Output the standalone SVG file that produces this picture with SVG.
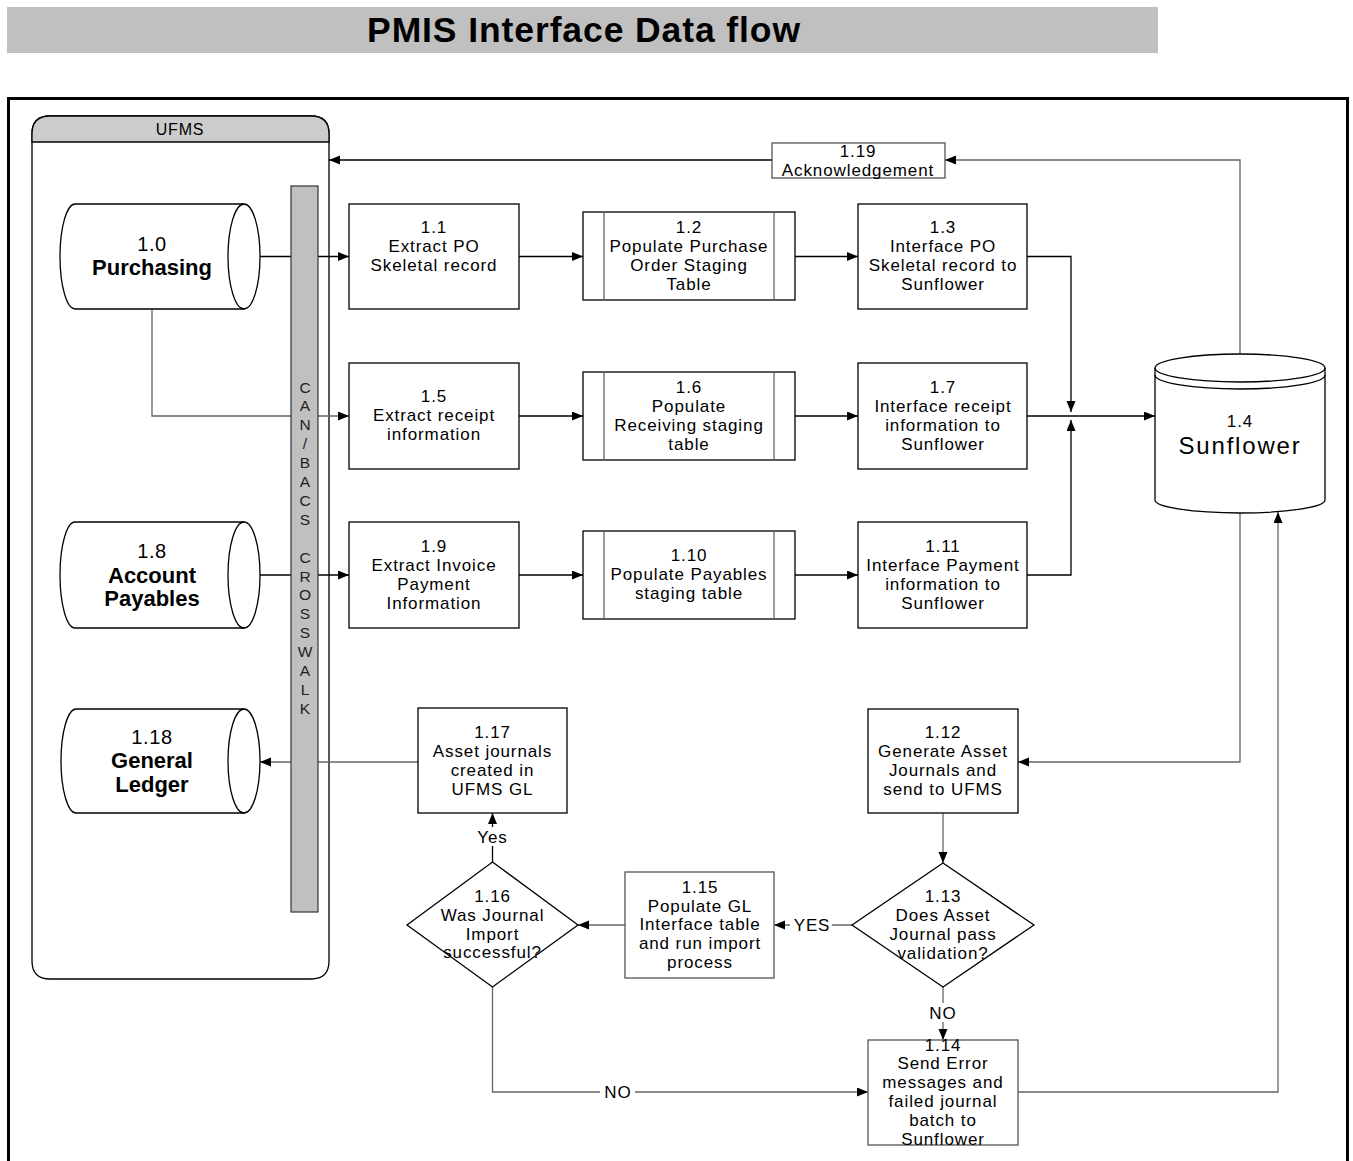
<svg xmlns="http://www.w3.org/2000/svg" width="1353" height="1161" viewBox="0 0 1353 1161">
<style>
.t{font-family:"Liberation Sans",Arial,sans-serif;font-size:17px;letter-spacing:0.9px;text-anchor:middle;fill:#000}
.n{font-family:"Liberation Sans",Arial,sans-serif;font-size:20px;letter-spacing:0.6px;text-anchor:middle;fill:#000}
.b{font-family:"Liberation Sans",Arial,sans-serif;font-size:22px;font-weight:bold;text-anchor:middle;fill:#000}
.bar{font-family:"Liberation Sans",Arial,sans-serif;font-size:15.5px;text-anchor:middle;fill:#222}
.box{fill:#fff;stroke:#000;stroke-width:1.3}
.gbox{fill:#fff;stroke:#555;stroke-width:1.3}
.c{fill:none;stroke:#000;stroke-width:1.3}
.g{fill:none;stroke:#666;stroke-width:1.3}
.lbl{fill:#fff;stroke:none}
</style>
<defs>
<marker id="ar" markerUnits="userSpaceOnUse" markerWidth="12" markerHeight="10" refX="11" refY="4.5" orient="auto">
<path d="M0,0 L11,4.5 L0,9 Z" fill="#000"/>
</marker>
</defs>

<g id="title">
<rect x="7" y="7" width="1151" height="46" fill="#c0c0c0"/>
<text x="584" y="42" style="font-family:'Liberation Sans',Arial,sans-serif;font-size:35.5px;font-weight:bold;letter-spacing:0.9px;text-anchor:middle">PMIS Interface Data flow</text>
</g>

<g id="frame">
<rect x="8.5" y="98.5" width="1339" height="1100" fill="none" stroke="#000" stroke-width="3"/>
</g>

<g id="ufms">
<path d="M32,961 L32,134 Q32,116 50,116 L311,116 Q329,116 329,134 L329,961 Q329,979 311,979 L50,979 Q32,979 32,961 Z" fill="#fff" stroke="#000" stroke-width="1.3"/>
<path d="M32,142 L32,134 Q32,116 50,116 L311,116 Q329,116 329,134 L329,142 Z" fill="#cccccc" stroke="#000" stroke-width="1.3"/>
<text x="180" y="135" style="font-family:'Liberation Sans',Arial,sans-serif;font-size:16px;letter-spacing:0.8px;text-anchor:middle">UFMS</text>
</g>

<g id="connectors">
<line class="c" x1="259" y1="256.5" x2="349" y2="256.5" marker-end="url(#ar)"/>
<line class="c" x1="519" y1="256.5" x2="583" y2="256.5" marker-end="url(#ar)"/>
<line class="c" x1="795" y1="256.5" x2="858" y2="256.5" marker-end="url(#ar)"/>
<polyline class="c" points="1027,256.5 1071,256.5 1071,412" marker-end="url(#ar)"/>
<polyline class="g" points="152,309 152,416 349,416" marker-end="url(#ar)"/>
<line class="c" x1="519" y1="416" x2="583" y2="416" marker-end="url(#ar)"/>
<line class="c" x1="795" y1="416" x2="858" y2="416" marker-end="url(#ar)"/>
<line class="c" x1="1027" y1="416" x2="1155" y2="416" marker-end="url(#ar)"/>
<line class="c" x1="243" y1="575" x2="349" y2="575" marker-end="url(#ar)"/>
<line class="c" x1="519" y1="575" x2="583" y2="575" marker-end="url(#ar)"/>
<line class="c" x1="795" y1="575" x2="858" y2="575" marker-end="url(#ar)"/>
<polyline class="c" points="1027,575 1071,575 1071,420" marker-end="url(#ar)"/>
<polyline class="g" points="1240,354 1240,160 945,160" marker-end="url(#ar)"/>
<line class="c" x1="772" y1="160" x2="329" y2="160" marker-end="url(#ar)"/>
<polyline class="g" points="1240,513 1240,762 1018,762" marker-end="url(#ar)"/>
<polyline class="g" points="1018,1092 1278,1092 1278,512" marker-end="url(#ar)"/>
<line class="g" x1="943" y1="813" x2="943" y2="863" marker-end="url(#ar)"/>
<line class="g" x1="852" y1="925" x2="774" y2="925" marker-end="url(#ar)"/>
<rect class="lbl" x="790" y="915" width="42" height="20"/>
<text class="t" x="812" y="931">YES</text>
<line class="g" x1="943" y1="987" x2="943" y2="1040" marker-end="url(#ar)"/>
<rect class="lbl" x="926" y="1003" width="34" height="19"/>
<text class="t" x="943" y="1019">NO</text>
<line class="g" x1="625" y1="925" x2="578" y2="925" marker-end="url(#ar)"/>
<line class="c" x1="492.5" y1="862" x2="492.5" y2="813" marker-end="url(#ar)"/>
<rect class="lbl" x="473" y="827" width="39" height="19"/>
<text class="t" x="492.5" y="843">Yes</text>
<polyline class="g" points="492.5,987 492.5,1092 868,1092" marker-end="url(#ar)"/>
<rect class="lbl" x="600" y="1082" width="35" height="19"/>
<text class="t" x="618" y="1098">NO</text>
<line class="g" x1="418" y1="762" x2="260" y2="762" marker-end="url(#ar)"/>
</g>

<g id="crosswalk">
<rect x="291" y="186" width="27" height="726" fill="#c0c0c0" stroke="#333" stroke-width="1.2"/>
<text class="bar">
<tspan x="305" y="392.5">C</tspan><tspan x="305" dy="18.9">A</tspan><tspan x="305" dy="18.9">N</tspan><tspan x="305" dy="18.9">/</tspan><tspan x="305" dy="18.9">B</tspan><tspan x="305" dy="18.9">A</tspan><tspan x="305" dy="18.9">C</tspan><tspan x="305" dy="18.9">S</tspan><tspan x="305" dy="37.8">C</tspan><tspan x="305" dy="18.9">R</tspan><tspan x="305" dy="18.9">O</tspan><tspan x="305" dy="18.9">S</tspan><tspan x="305" dy="18.9">S</tspan><tspan x="305" dy="18.9">W</tspan><tspan x="305" dy="18.9">A</tspan><tspan x="305" dy="18.9">L</tspan><tspan x="305" dy="18.9">K</tspan>
</text>
</g>

<g id="n1_0">
<path class="box" d="M75,204 L244,204 A16,52.5 0 0 1 244,309 L75,309 A15,52.5 0 0 1 75,204 Z"/>
<path class="c" d="M244,204 A16,52.5 0 0 0 244,309"/>
<text class="n" x="152" y="251">1.0</text>
<text class="b" x="152" y="275">Purchasing</text>
</g>

<g id="n1_8">
<path class="box" d="M75,522 L244,522 A16,53 0 0 1 244,628 L75,628 A15,53 0 0 1 75,522 Z"/>
<path class="c" d="M244,522 A16,53 0 0 0 244,628"/>
<text class="n" x="152" y="558">1.8</text>
<text class="b" x="152" y="583">Account</text>
<text class="b" x="152" y="606">Payables</text>
</g>

<g id="n1_18">
<path class="box" d="M76,709 L244,709 A16,52 0 0 1 244,813 L76,813 A15,52 0 0 1 76,709 Z"/>
<path class="c" d="M244,709 A16,52 0 0 0 244,813"/>
<text class="n" x="152" y="744">1.18</text>
<text class="b" x="152" y="768">General</text>
<text class="b" x="152" y="792">Ledger</text>
</g>

<g id="n1_1">
<rect class="box" x="349" y="204" width="170" height="105"/>
<text class="t" x="434" y="233">1.1</text>
<text class="t" x="434" y="252">Extract PO</text>
<text class="t" x="434" y="271">Skeletal record</text>
</g>

<g id="n1_2">
<rect class="box" x="583" y="212" width="212" height="88"/>
<line class="g" x1="604" y1="212" x2="604" y2="300"/>
<line class="g" x1="774" y1="212" x2="774" y2="300"/>
<text class="t" x="689" y="233">1.2</text>
<text class="t" x="689" y="252">Populate Purchase</text>
<text class="t" x="689" y="271">Order Staging</text>
<text class="t" x="689" y="290">Table</text>
</g>

<g id="n1_3">
<rect class="box" x="858" y="204" width="169" height="105"/>
<text class="t" x="943" y="233">1.3</text>
<text class="t" x="943" y="252">Interface PO</text>
<text class="t" x="943" y="271">Skeletal record to</text>
<text class="t" x="943" y="290">Sunflower</text>
</g>

<g id="n1_5">
<rect class="box" x="349" y="363" width="170" height="106"/>
<text class="t" x="434" y="402">1.5</text>
<text class="t" x="434" y="421">Extract receipt</text>
<text class="t" x="434" y="440">information</text>
</g>

<g id="n1_6">
<rect class="box" x="583" y="372" width="212" height="88"/>
<line class="g" x1="604" y1="372" x2="604" y2="460"/>
<line class="g" x1="774" y1="372" x2="774" y2="460"/>
<text class="t" x="689" y="393">1.6</text>
<text class="t" x="689" y="412">Populate</text>
<text class="t" x="689" y="431">Receiving staging</text>
<text class="t" x="689" y="450">table</text>
</g>

<g id="n1_7">
<rect class="box" x="858" y="363" width="169" height="106"/>
<text class="t" x="943" y="393">1.7</text>
<text class="t" x="943" y="412">Interface receipt</text>
<text class="t" x="943" y="431">information to</text>
<text class="t" x="943" y="450">Sunflower</text>
</g>

<g id="n1_9">
<rect class="box" x="349" y="522" width="170" height="106"/>
<text class="t" x="434" y="552">1.9</text>
<text class="t" x="434" y="571">Extract Invoice</text>
<text class="t" x="434" y="590">Payment</text>
<text class="t" x="434" y="609">Information</text>
</g>

<g id="n1_10">
<rect class="box" x="583" y="531" width="212" height="88"/>
<line class="g" x1="604" y1="531" x2="604" y2="619"/>
<line class="g" x1="774" y1="531" x2="774" y2="619"/>
<text class="t" x="689" y="561">1.10</text>
<text class="t" x="689" y="580">Populate Payables</text>
<text class="t" x="689" y="599">staging table</text>
</g>

<g id="n1_11">
<rect class="box" x="858" y="522" width="169" height="106"/>
<text class="t" x="943" y="552">1.11</text>
<text class="t" x="943" y="571">Interface Payment</text>
<text class="t" x="943" y="590">information to</text>
<text class="t" x="943" y="609">Sunflower</text>
</g>

<g id="n1_19">
<rect class="gbox" x="772" y="143" width="173" height="35"/>
<text class="t" x="858" y="157">1.19</text>
<text class="t" x="858" y="176">Acknowledgement</text>
</g>

<g id="n1_4">
<path class="box" d="M1155,368 A85,14 0 0 1 1325,368 L1325,500 A85,13 0 0 1 1155,500 Z"/>
<path class="c" d="M1155,368 A85,14 0 0 0 1325,368"/>
<path class="c" d="M1155,375 A85,14 0 0 0 1325,375"/>
<text class="t" x="1240" y="427">1.4</text>
<text x="1240" y="454" style="font-family:'Liberation Sans',Arial,sans-serif;font-size:24px;letter-spacing:1.8px;text-anchor:middle">Sunflower</text>
</g>

<g id="n1_12">
<rect class="box" x="868" y="709" width="150" height="104"/>
<text class="t" x="943" y="738">1.12</text>
<text class="t" x="943" y="757">Generate Asset</text>
<text class="t" x="943" y="776">Journals and</text>
<text class="t" x="943" y="795">send to UFMS</text>
</g>

<g id="n1_13">
<polygon class="box" points="943,863 1034,925 943,987 852,925"/>
<text class="t" x="943" y="902">1.13</text>
<text class="t" x="943" y="921">Does Asset</text>
<text class="t" x="943" y="940">Journal pass</text>
<text class="t" x="943" y="959">validation?</text>
</g>

<g id="n1_14">
<rect class="gbox" x="868" y="1040" width="150" height="105"/>
<text class="t" x="943" y="1051">1.14</text>
<text class="t" x="943" y="1069">Send Error</text>
<text class="t" x="943" y="1088">messages and</text>
<text class="t" x="943" y="1107">failed journal</text>
<text class="t" x="943" y="1126">batch to</text>
<text class="t" x="943" y="1145">Sunflower</text>
</g>

<g id="n1_15">
<rect class="gbox" x="625" y="872" width="149" height="106"/>
<text class="t" x="700" y="893">1.15</text>
<text class="t" x="700" y="912">Populate GL</text>
<text class="t" x="700" y="930">Interface table</text>
<text class="t" x="700" y="949">and run import</text>
<text class="t" x="700" y="968">process</text>
</g>

<g id="n1_16">
<polygon class="box" points="492.5,862 578,925 492.5,987 407,925"/>
<text class="t" x="492.5" y="902">1.16</text>
<text class="t" x="492.5" y="921">Was Journal</text>
<text class="t" x="492.5" y="940">Import</text>
<text class="t" x="492.5" y="958">successful?</text>
</g>

<g id="n1_17">
<rect class="box" x="418" y="708" width="149" height="105"/>
<text class="t" x="492.5" y="738">1.17</text>
<text class="t" x="492.5" y="757">Asset journals</text>
<text class="t" x="492.5" y="776">created in</text>
<text class="t" x="492.5" y="795">UFMS GL</text>
</g>
</svg>
